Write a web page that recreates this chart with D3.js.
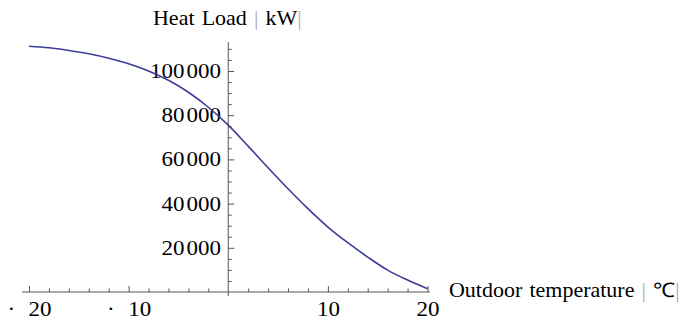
<!DOCTYPE html>
<html>
<head>
<meta charset="utf-8">
<script src="https://cdn.jsdelivr.net/npm/d3@7"></script>
<style>
  body { margin: 0; background: #fff; }
  text { font-family: "Liberation Serif", "Times New Roman", serif; fill: #000; }
</style>
</head>
<body>
<div id="chart"></div>
<script>
// outdoor temperature (°C) and heat load (kW)
const temps = [-20, -18, -16, -14, -12, -10, -8, -6, -4, -2, 0, 2, 4, 6, 8, 10, 12, 14, 16, 18, 20];
const loads = [111200, 110500, 109300, 107800, 105800, 103300, 100000, 95800, 90400, 83600, 75500,
               66000, 56200, 46700, 37700, 29400, 22300, 15800, 9900, 5400, 1500];

const xMajor = [-20, -10, 10, 20];
const xTickLabels = ["·\u2002\u200a20", "·\u2002\u200a10", "10", "20"];
const yMajor = [20000, 40000, 60000, 80000, 100000];
const yTickLabels = ["20\u200a000", "40\u200a000", "60\u200a000", "80\u200a000", "100\u200a000"];

const width = 695, height = 320;
const fontSize = 20;
const stretch = 1.1;      // the reference type is a bit wide
const tickStretch = 1.15;

const svg = d3.select("#chart")
    .append("svg")
    .attr("width", width)
    .attr("height", height);

const x = d3.scaleLinear().domain([-20, 20]).range([29, 427.5]);
const y = d3.scaleLinear().domain([0, 100000]).range([292, 71]);

const axisColor = "#555";

// minor ticks
const xMinor = d3.range(-20, 21, 2).filter(v => v % 10 !== 0);
const yMinor = d3.range(5000, 112000, 5000).filter(v => v % 20000 !== 0);

svg.append("g")
    .attr("transform", `translate(0,${y(0)})`)
    .call(d3.axisBottom(x).tickValues(xMinor).tickSize(-3.5).tickFormat(""))
    .call(g => g.select(".domain").remove());

svg.append("g")
    .attr("transform", `translate(${x(0)},0)`)
    .call(d3.axisLeft(y).tickValues(yMinor).tickSize(-3.5).tickFormat(""))
    .call(g => g.select(".domain").remove());

// major ticks + labels
svg.append("g")
    .attr("transform", `translate(0,${y(0)})`)
    .call(d3.axisBottom(x).tickValues(xMajor).tickSize(-6).tickPadding(9.5)
        .tickFormat((d, i) => xTickLabels[i]))
    .call(g => g.select(".domain").remove())
    .call(g => g.selectAll("text").attr("font-size", fontSize)
        .attr("transform", `scale(${tickStretch},1)`));

svg.append("g")
    .attr("transform", `translate(${x(0)},0)`)
    .call(d3.axisLeft(y).tickValues(yMajor).tickSize(-6).tickPadding(7.3)
        .tickFormat((d, i) => yTickLabels[i]))
    .call(g => g.select(".domain").remove())
    .call(g => g.selectAll("text").attr("font-size", fontSize)
        .attr("x", -7.3 / tickStretch)
        .attr("transform", `scale(${tickStretch},1)`));

svg.selectAll(".tick line").attr("stroke", axisColor);

// axis lines
svg.append("line")
    .attr("x1", x(-20.7)).attr("x2", x(20.25))
    .attr("y1", y(0)).attr("y2", y(0))
    .attr("stroke", axisColor).attr("stroke-width", 1);

svg.append("line")
    .attr("x1", x(0)).attr("x2", x(0))
    .attr("y1", y(113100)).attr("y2", y(-1800))
    .attr("stroke", axisColor).attr("stroke-width", 1);

// curve
const line = d3.line()
    .x((d, i) => x(temps[i]))
    .y(d => y(d))
    .curve(d3.curveMonotoneX);

svg.append("path")
    .datum(loads)
    .attr("d", line)
    .attr("fill", "none")
    .attr("stroke", "#3d3d99")
    .attr("stroke-width", 1.6);

// axis labels
function label(px, py, parts) {
    const t = svg.append("text")
        .attr("x", px / stretch).attr("y", py)
        .attr("transform", `scale(${stretch},1)`)
        .attr("font-size", fontSize)
        .attr("word-spacing", 1.5);
    parts.forEach(([s, bar]) => t.append("tspan").attr("fill", bar ? "#aaa" : null).text(s));
}

label(153, 25, [["Heat Load ", false], ["|", true], [" kW", false], ["|", true]]);
label(449, 297, [["Outdoor temperature ", false], ["|", true], [" \u2103", false], ["|", true]]);
</script>
</body>
</html>
